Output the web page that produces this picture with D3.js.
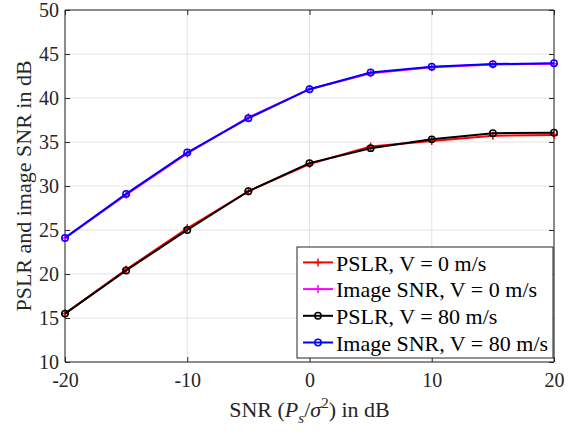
<!DOCTYPE html>
<html>
<head>
<meta charset="utf-8">
<script src="https://cdn.jsdelivr.net/npm/d3@7"></script>
<style>
  html, body { margin: 0; padding: 0; background: #fff; }
  svg text { font-family: "Liberation Serif", "Times New Roman", Times, "DejaVu Serif", "Noto Serif", serif !important; }
</style>
</head>
<body>
<svg id="chart" width="578" height="437"></svg>
<script>
// SNR sweep (dB)
const snr = [-20, -15, -10, -5, 0, 5, 10, 15, 20];

// Measured quality metrics (dB)
const pslrV0      = [15.5, 20.5, 25.2, 29.4, 32.5, 34.5, 35.1, 35.7, 35.8];
const imageSnrV0  = [24.1, 29.0, 33.7, 37.8, 41.0, 42.8, 43.5, 43.8, 43.9];
const pslrV80     = [15.5, 20.4, 25.0, 29.4, 32.6, 34.3, 35.3, 36.0, 36.05];
const imageSnrV80 = [24.1, 29.1, 33.8, 37.7, 41.0, 42.9, 43.55, 43.85, 43.95];

const xTicks = [-20, -10, 0, 10, 20];
const yTicks = [10, 15, 20, 25, 30, 35, 40, 45, 50];

const seriesNames = ["PSLR, V = 0 m/s", "Image SNR, V = 0 m/s", "PSLR, V = 80 m/s", "Image SNR, V = 80 m/s"];
const seriesValues = [pslrV0, imageSnrV0, pslrV80, imageSnrV80];
const seriesColors = ["#ff0000", "#ff00ff", "#000000", "#0000ff"];
const seriesMarkers = ["plus", "plus", "circle", "circle"];

const serif = "'Liberation Serif', 'Times New Roman', Times, 'DejaVu Serif', 'Noto Serif', serif";
const svg = d3.select("#chart");
const margin = { left: 65, top: 10, right: 24, bottom: 75 };
const W = 578, H = 437;
const x = d3.scaleLinear().domain([-20, 20]).range([margin.left, W - margin.right]);
const y = d3.scaleLinear().domain([10, 50]).range([H - margin.bottom, margin.top]);
const axisColor = "#262626";

// grid
const grid = svg.append("g");
grid.selectAll("line.gx").data(xTicks).join("line")
  .attr("x1", d => x(d)).attr("x2", d => x(d))
  .attr("y1", y(10)).attr("y2", y(50))
  .attr("stroke", "#e3e3e3").attr("stroke-width", 1);
grid.selectAll("line.gy").data(yTicks).join("line")
  .attr("x1", x(-20)).attr("x2", x(20))
  .attr("y1", d => y(d)).attr("y2", d => y(d))
  .attr("stroke", "#e3e3e3").attr("stroke-width", 1);

// axes (ticks pointing inward, box on)
const tickLen = 5;
const plain = d => String(d);
const axBottom = svg.append("g").attr("transform", `translate(0,${y(10)})`)
  .call(d3.axisBottom(x).tickValues(xTicks).tickSize(-tickLen).tickPadding(11).tickFormat(plain));
const axTop = svg.append("g").attr("transform", `translate(0,${y(50)})`)
  .call(d3.axisTop(x).tickValues(xTicks).tickSize(-tickLen).tickFormat(""));
const axLeft = svg.append("g").attr("transform", `translate(${x(-20)},0)`)
  .call(d3.axisLeft(y).tickValues(yTicks).tickSize(-tickLen).tickPadding(6).tickFormat(plain));
const axRight = svg.append("g").attr("transform", `translate(${x(20)},0)`)
  .call(d3.axisRight(y).tickValues(yTicks).tickSize(-tickLen).tickFormat(""));
[axBottom, axTop, axLeft, axRight].forEach(g => {
  g.attr("font-family", serif).attr("font-size", 20);
  g.select(".domain").attr("stroke", axisColor).attr("stroke-width", 1);
  g.selectAll(".tick line").attr("stroke", axisColor).attr("stroke-width", 1);
  g.selectAll(".tick text").attr("fill", axisColor);
});
axBottom.select(".domain").attr("d", `M${x(-20)},0H${x(20)}`);
axTop.select(".domain").attr("d", `M${x(-20)},0H${x(20)}`);
axLeft.select(".domain").attr("d", `M0,${y(10)}V${y(50)}`);
axRight.select(".domain").attr("d", `M0,${y(10)}V${y(50)}`);

// series
const line = d3.line().x((d, i) => x(snr[i])).y(d => y(d));
function drawMarker(g, type, cx, cy, color) {
  if (type === "plus") {
    g.append("path")
      .attr("d", `M${cx - 4},${cy}H${cx + 4}M${cx},${cy - 4}V${cy + 4}`)
      .attr("stroke", color).attr("stroke-width", 1.5).attr("fill", "none");
  } else {
    g.append("circle").attr("cx", cx).attr("cy", cy).attr("r", 3.2)
      .attr("stroke", color).attr("stroke-width", 1.5).attr("fill", "none");
  }
}
seriesValues.forEach((vals, k) => {
  const g = svg.append("g");
  g.append("path").datum(vals).attr("d", line)
    .attr("fill", "none").attr("stroke", seriesColors[k]).attr("stroke-width", 2);
  vals.forEach((v, i) => drawMarker(g, seriesMarkers[k], x(snr[i]), y(v), seriesColors[k]));
});

// axis labels
svg.append("text")
  .attr("transform", `translate(31,${(y(10) + y(50)) / 2}) rotate(-90)`)
  .attr("text-anchor", "middle").attr("fill", axisColor)
  .attr("font-family", serif).attr("font-size", 22)
  .text("PSLR and image SNR in dB");

const xl = svg.append("text")
  .attr("x", (x(-20) + x(20)) / 2).attr("y", 417)
  .attr("text-anchor", "middle").attr("fill", axisColor)
  .attr("font-family", serif).attr("font-size", 22);
xl.append("tspan").text("SNR (");
xl.append("tspan").attr("font-style", "italic").text("P");
xl.append("tspan").attr("dy", 6).attr("font-style", "italic").attr("font-size", 15).text("s");
xl.append("tspan").attr("dy", -6).text("/");
xl.append("tspan").attr("font-style", "italic").text("σ");
xl.append("tspan").attr("dy", -9).attr("font-size", 15).text("2");
xl.append("tspan").attr("dy", 9).text(") in dB");

// legend
const lg = svg.append("g");
const lx0 = 297, ly0 = 247, lw = 256, lh = 111;
lg.append("rect").attr("x", lx0).attr("y", ly0).attr("width", lw).attr("height", lh)
  .attr("fill", "#fff").attr("stroke", axisColor).attr("stroke-width", 1);
seriesNames.forEach((name, k) => {
  const base = 270.7 + k * 26.7;
  const ly = base - 8.3;
  lg.append("line").attr("x1", 303).attr("x2", 333).attr("y1", ly).attr("y2", ly)
    .attr("stroke", seriesColors[k]).attr("stroke-width", 2);
  drawMarker(lg, seriesMarkers[k], 318, ly, seriesColors[k]);
  lg.append("text").attr("x", 336).attr("y", base)
    .attr("fill", "#000").attr("font-family", serif).attr("font-size", 22).text(name);
});
</script>
</body>
</html>
